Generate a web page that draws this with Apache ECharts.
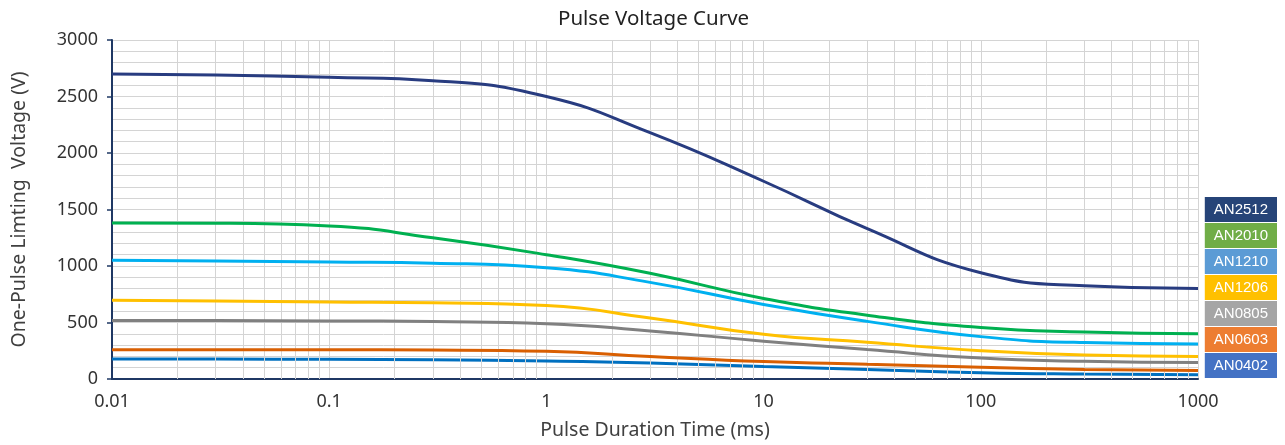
<!DOCTYPE html>
<html>
<head>
<meta charset="utf-8">
<script src="https://cdn.jsdelivr.net/npm/echarts@6/dist/echarts.min.js"></script>
<style>html,body{margin:0;padding:0;background:#fff;}#c{width:1285px;height:445px;}</style>
</head>
<body>
<div id="c"></div>
<script>
// Pulse duration (ms)
var times = [0.01, 0.03, 0.1, 0.3, 1, 3, 10, 30, 100, 300, 1000];
// One-pulse limiting voltage (V)
var an2512 = [2700, 2690, 2670, 2640, 2500, 2180, 1750, 1330, 940, 825, 800];
var an2010 = [1380, 1378, 1355, 1250, 1100, 935, 712, 565, 455, 415, 400];
var an1210 = [1050, 1045, 1035, 1025, 985, 855, 660, 510, 375, 322, 310];
var an1206 = [698, 690, 682, 675, 650, 540, 396, 325, 250, 212, 200];
var an0805 = [518, 517, 514, 508, 490, 425, 335, 260, 185, 157, 145];
var an0603 = [258, 258, 258, 256, 245, 200, 155, 130, 105, 85, 75];
var an0402 = [176, 176, 175, 170, 160, 142, 110, 85, 56, 44, 38];

var names = ['AN2512', 'AN2010', 'AN1210', 'AN1206', 'AN0805', 'AN0603', 'AN0402'];
var values = [an2512, an2010, an1210, an1206, an0805, an0603, an0402];
var lineColors = ['#283C80', '#00B050', '#00B0F0', '#FFC000', '#808080', '#D95F02', '#0070C0'];
var legendColors = ['#264478', '#70AD47', '#5B9BD5', '#FFC000', '#A5A5A5', '#ED7D31', '#4472C4'];
var xTicks = [0.01, 0.1, 1, 10, 100, 1000];

// minor vertical grid positions (2..9 within each decade)
var minorX = [];
for (var d = 0; d < xTicks.length - 1; d++) {
  for (var m = 2; m <= 9; m++) minorX.push(+(xTicks[d] * m).toPrecision(3));
}

var FONT = 'Noto Sans';
var series = names.map(function (n, i) {
  return {
    name: n, type: 'line', smooth: 0.5, symbol: 'none',
    lineStyle: { width: 3, color: lineColors[i] }, itemStyle: { color: lineColors[i] },
    z: 10 - i,
    data: times.map(function (t, k) { return [t, values[i][k]]; })
  };
});
series.push({
  type: 'line', data: [], silent: true, z: 1,
  markLine: {
    silent: true, symbol: 'none', label: { show: false }, animation: false,
    lineStyle: { type: 'solid', color: '#D4D4D4', width: 1 },
    emphasis: { disabled: true },
    data: minorX.map(function (v) { return { xAxis: v }; })
  }
});

var chart = echarts.init(document.getElementById('c'), null, { renderer: 'canvas' });
chart.setOption({
  animation: false,
  backgroundColor: '#ffffff',
  title: {
    text: 'Pulse Voltage Curve', left: 553, top: 4,
    textStyle: { fontFamily: FONT, fontSize: 20.5, fontWeight: 'normal', color: '#222' }
  },
  legend: {
    orient: 'vertical', right: 3, top: 192, itemGap: 1, itemWidth: 0, itemHeight: 0,
    icon: 'none', selectedMode: false,
    data: names.map(function (n, i) {
      return {
        name: n,
        textStyle: {
          color: '#fff', fontSize: 15, fontFamily: 'Liberation Sans', backgroundColor: legendColors[i],
          padding: [5, 9, 5, 9], lineHeight: 15
        }
      };
    })
  },
  grid: { left: 112, right: 87, top: 40, bottom: 64 },
  xAxis: {
    type: 'log', logBase: 10, min: 0.01, max: 1000,
    name: 'Pulse Duration Time (ms)', nameLocation: 'middle', nameGap: 41,
    nameTextStyle: { fontFamily: FONT, fontSize: 19.5, color: '#404040' },
    axisLine: { show: true, lineStyle: { color: '#1F3864', width: 2 } },
    axisTick: { show: false },
    axisLabel: {
      fontFamily: FONT, fontSize: 18, color: '#333', margin: 14,
      formatter: function (v) { return String(+v.toPrecision(3)); }
    },
    splitLine: { show: true, lineStyle: { color: '#D4D4D4', width: 1 } }
  },
  yAxis: {
    type: 'value', min: 0, max: 3000, interval: 500,
    name: 'One-Pulse Limting  Voltage (V)', nameLocation: 'middle', nameGap: 83,
    nameTextStyle: { fontFamily: FONT, fontSize: 19.5, color: '#404040' },
    axisLine: { show: true, lineStyle: { color: '#1F3864', width: 2 } },
    axisTick: { show: true, length: 5, lineStyle: { color: '#1F3864', width: 1.5 } },
    axisLabel: {
      fontFamily: FONT, fontSize: 18, color: '#333', margin: 14,
      formatter: function (v) { return String(v); }
    },
    splitLine: { show: true, lineStyle: { color: '#D4D4D4', width: 1 } },
    minorTick: { show: false, splitNumber: 5 },
    minorSplitLine: { show: true, lineStyle: { color: '#D4D4D4', width: 1 } }
  },
  series: series
});
</script>
</body>
</html>
